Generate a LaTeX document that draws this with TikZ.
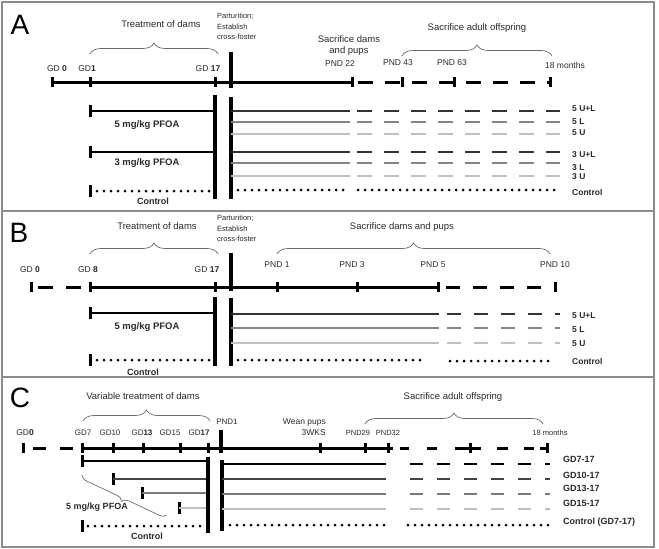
\documentclass[tikz,border=0pt]{standalone}
\usepackage{fontspec}
\setmainfont{Liberation Sans}
\usetikzlibrary{decorations.pathreplacing}
\definecolor{dk}{HTML}{333333}
\definecolor{md}{HTML}{858585}
\definecolor{lt}{HTML}{C0C0C0}
\definecolor{cdk}{HTML}{444444}
\definecolor{cmd}{HTML}{7A7A7A}
\definecolor{txt}{HTML}{2A2A2A}
\definecolor{framec}{HTML}{8C8C8C}
\newcommand\tck[3][5]{\draw[tk] (#2,{#3-#1}) -- (#2,{#3+#1});}
\begin{document}
\begin{tikzpicture}[x=1pt,y=-1pt,
  tl/.style={line width=3pt},
  tk/.style={line width=3pt},
  vb/.style={line width=3.5pt},
  rw/.style={line width=2.9pt},
  dsh/.style={dash pattern=on 15pt off 12pt},
  dots/.style={line width=3pt,line cap=round,dash pattern=on 0pt off 7pt},
  br/.style={decorate,decoration={brace,amplitude=11pt},line width=0.7pt,draw=txt!70},
  lab/.style={font=\fontsize{9.5}{11}\selectfont,text=txt,inner sep=0pt},
  gd/.style={font=\fontsize{8.5}{10}\selectfont,text=txt,inner sep=0pt},
  sm/.style={font=\fontsize{7.5}{10.5}\selectfont,text=txt,inner sep=0pt,align=left,anchor=north west},
  bl/.style={font=\bfseries\fontsize{9.5}{11}\selectfont,text=txt,inner sep=0pt},
  rl/.style={font=\bfseries\fontsize{8.5}{9}\selectfont,text=txt,anchor=west,inner sep=0pt},
  letter/.style={font=\fontsize{28}{28}\selectfont,inner sep=0pt}]
\useasboundingbox (0,0) rectangle (659,549);
% frames
\draw[framec,line width=1.2pt] (2,2) rectangle (654,211);
\draw[framec,line width=1.2pt] (2,211) rectangle (654,377);
\draw[framec,line width=1.2pt] (2,377) rectangle (654,547);

%%%%%%%%%%%%%%%% Panel A
\node[letter] (lA) at (20,25) {A};
\node[lab] (tA) at (161,24) {Treatment of dams};
\draw[br] (90,54) -- (218,54);
\node[sm] (pA) at (217,13) {Parturition;\\Establish\\cross-foster};
\node[lab,align=center] (sA) at (349,46) {Sacrifice dams\\and pups};
\node[gd] (p22) at (340,64) {PND 22};
\node[lab] (saA) at (477,28) {Sacrifice adult offspring};
\draw[br] (402,56) -- (552,56);
\node[gd] (p43) at (398,63) {PND 43};
\node[gd] (p63) at (452,63) {PND 63};
\node[gd] (m18A) at (565,65) {18 months};
\node[gd] (gA0) at (57,69) {GD \textbf{0}};
\node[gd] (gA1) at (87,69) {GD\textbf{1}};
\node[gd] (gA17) at (208,69) {GD \textbf{17}};
% timeline
\draw[tl] (52,82) -- (352,82);
\draw[tl,dsh,dash phase=21pt] (352,82) -- (550,82);
\foreach \x in {52,90,215,352,402,454,550} {\tck{\x}{82}}
\draw[vb] (231,52) -- (231,88);
% rows left
\tck[6]{90}{111} \draw[rw] (90,111) -- (215,111);
\tck[6]{90}{152} \draw[rw] (90,152) -- (215,152);
\tck[6]{90}{191} \draw[dots] (97,191) -- (213,191);
\node[bl] (dA5) at (147,125) {5 mg/kg PFOA};
\node[bl] (dA3) at (147,163) {3 mg/kg PFOA};
\node[bl,font=\bfseries\fontsize{9}{10}\selectfont] (cA) at (153,201) {Control};
\draw[vb] (215,95) -- (215,199);
\draw[vb] (231,97) -- (231,199);
% rows right
\foreach \y/\c in {111/dk,122/md,134/lt,152/dk,163/md,176/lt} {
  \draw[rw,\c] (231,\y) -- (350,\y);
  \draw[rw,\c,dsh,dash phase=20pt] (350,\y) -- (560,\y);
}
\draw[dots] (238,190) -- (350,190);
\draw[dots] (358,190) -- (560,190);
\node[rl] (rA1) at (572,109) {5 U+L};
\node[rl] (rA2) at (572,122) {5 L};
\node[rl] (rA3) at (572,133) {5 U};
\node[rl] (rA4) at (572,155) {3 U+L};
\node[rl] (rA5) at (572,168) {3 L};
\node[rl] (rA6) at (572,177) {3 U};
\node[rl] (rA7) at (572,192) {Control};

%%%%%%%%%%%%%%%% Panel B
\node[letter] (lB) at (19,233) {B};
\node[lab] (tB) at (157,226) {Treatment of dams};
\draw[br] (90,254) -- (218,254);
\node[sm] (pB) at (217,215) {Parturition;\\Establish\\cross-foster};
\node[lab] (sB) at (402,227) {Sacrifice dams and pups};
\draw[br] (277,254) -- (550,254);
\node[gd] (gB0) at (30,270) {GD \textbf{0}};
\node[gd] (gB8) at (88,270) {GD \textbf{8}};
\node[gd] (gB17) at (207,270) {GD \textbf{17}};
\node[gd] (pB1) at (277,265) {PND 1};
\node[gd] (pB3) at (352,265) {PND 3};
\node[gd] (pB5) at (433,265) {PND 5};
\node[gd] (pB10) at (555,265) {PND 10};
\draw[tl,dash pattern=on 15pt off 13pt,dash phase=21pt] (31,287) -- (90,287);
\draw[tl] (90,287) -- (438,287);
\draw[tl,dash pattern=on 14pt off 13pt,dash phase=19pt] (438,287) -- (555,287);
\foreach \x in {31,90,215,277,357,438,555} {\tck{\x}{287}}
\draw[vb] (231,253) -- (231,291);
\tck[6]{90}{313} \draw[rw] (90,313) -- (215,313);
\tck[6]{90}{360} \draw[dots] (97,360) -- (213,360);
\node[bl] (dB5) at (147,327) {5 mg/kg PFOA};
\node[bl,font=\bfseries\fontsize{9}{10}\selectfont] (cB) at (143,372) {Control};
\draw[vb] (215,297) -- (215,366);
\draw[vb] (231,298) -- (231,366);
\foreach \y/\c in {314/dk,328/md,343/lt} {
  \draw[rw,\c] (231,\y) -- (439,\y);
  \draw[rw,\c,dash pattern=on 14pt off 13pt,dash phase=19pt] (439,\y) -- (560,\y);
}
\draw[dots] (238,360) -- (427,360);
\draw[dots] (450,361) -- (553,361);
\node[rl] (rB1) at (572,316) {5 U+L};
\node[rl] (rB2) at (572,330) {5 L};
\node[rl] (rB3) at (572,344) {5 U};
\node[rl] (rB4) at (572,361) {Control};

%%%%%%%%%%%%%%%% Panel C
\node[letter] (lC) at (20,398) {C};
\node[lab] (tC) at (143,396) {Variable treatment of dams};
\draw[br] (83,421) -- (210,421);
\node[lab] (sC) at (453,397) {Sacrifice adult offspring};
\draw[br] (365,424) -- (543,424);
\node[gd] (gC0) at (25,433) {GD\textbf{0}};
\node[gd,font=\fontsize{8}{9}\selectfont] (gC7) at (83,433) {GD7};
\node[gd,font=\fontsize{8}{9}\selectfont] (gC10) at (110,433) {GD10};
\node[gd,font=\fontsize{8}{9}\selectfont] (gC13) at (142,433) {GD\textbf{13}};
\node[gd,font=\fontsize{8}{9}\selectfont] (gC15) at (170,433) {GD15};
\node[gd,font=\fontsize{8}{9}\selectfont] (gC17) at (199,433) {GD\textbf{17}};
\node[gd,font=\fontsize{8}{9}\selectfont] (pC1) at (227,422) {PND1};
\node[gd,anchor=east] (wean) at (326,422) {Wean pups};
\node[gd,anchor=east] (wks) at (326,433) {3WKS};
\node[gd,font=\fontsize{7.5}{9}\selectfont] (p29) at (358,433) {PND29};
\node[gd,font=\fontsize{7.5}{9}\selectfont] (p32) at (388,433) {PND32};
\node[gd,font=\fontsize{7.5}{9}\selectfont] (m18C) at (550,433) {18 months};
\draw[tl,dash pattern=on 13pt off 14pt,dash phase=17pt] (23,448) -- (82,448);
\draw[tl] (82,448) -- (393,448);
\foreach \a/\b in {400/409,427/437,455/481,497/508,524/534,540/547} {\draw[tl] (\a,448) -- (\b,448);}
\foreach \x in {23,82,113,143,180,208,320,365,388,470,547} {\tck{\x}{448}}
\draw[vb] (221,430) -- (221,453);
% rows left
\tck[6]{82}{461} \draw[rw,black] (82,461) -- (208,461);
\tck[6]{113}{479} \draw[rw,cdk] (113,479) -- (208,479);
\tck[6]{142}{493} \draw[rw,cmd] (142,493) -- (208,493);
\tck[6]{179}{508} \draw[rw,lt] (179,508) -- (208,508);
\tck[6]{82}{526} \draw[dots] (88,526) -- (205,526);
\draw[vb] (208,457) -- (208,533);
\draw[vb] (222,460) -- (222,531);
\draw[decorate,decoration={brace,amplitude=7pt},line width=0.7pt,draw=txt!70] (167,515) -- (82,475);
\node[bl,font=\bfseries\fontsize{9}{10}\selectfont] (dC5) at (97,507) {5 mg/kg PFOA};
\node[bl,font=\bfseries\fontsize{9}{10}\selectfont] (cC) at (147,536) {Control};
% rows right
\foreach \y/\c in {464/black,479/cdk,494/cmd,509/lt} {
  \draw[rw,\c] (222,\y) -- (386,\y);
  \draw[rw,\c,dash pattern=on 13pt off 14pt] (410,\y) -- (550,\y);
}
\draw[dots] (230,525) -- (386,525);
\draw[dots] (408,525) -- (550,525);
\node[rl,font=\bfseries\fontsize{9}{10}\selectfont] (rC1) at (563,459) {GD7-17};
\node[rl,font=\bfseries\fontsize{9}{10}\selectfont] (rC2) at (563,475) {GD10-17};
\node[rl,font=\bfseries\fontsize{9}{10}\selectfont] (rC3) at (563,488) {GD13-17};
\node[rl,font=\bfseries\fontsize{9}{10}\selectfont] (rC4) at (563,503) {GD15-17};
\node[rl,font=\bfseries\fontsize{9}{10}\selectfont] (rC5) at (563,522) {Control (GD7-17)};
\end{tikzpicture}
\end{document}
